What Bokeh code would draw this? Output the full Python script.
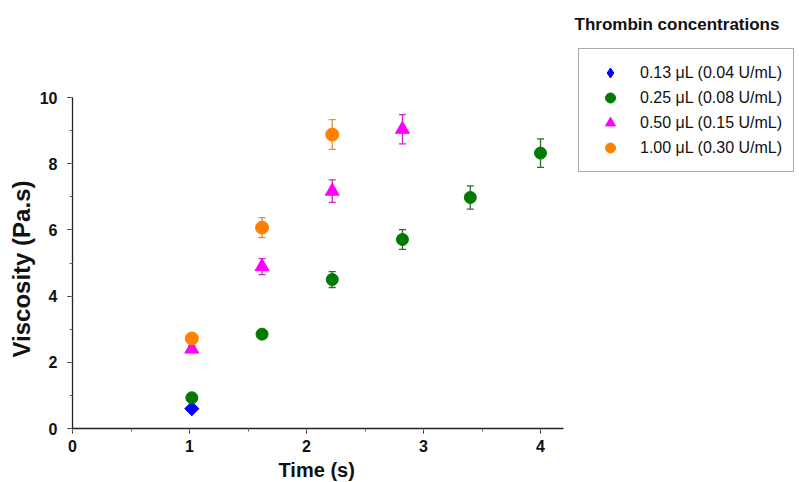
from bokeh.plotting import figure
from bokeh.models import (ColumnDataSource, Whisker, TeeHead, Legend, LegendItem,
                          SingleIntervalTicker, Label, Range1d, Title)
from bokeh.embed import file_html
from bokeh.resources import INLINE
import numpy as np

# ---- data ----
series_labels = ["0.13 \u03bcL (0.04 U/mL)", "0.25 \u03bcL (0.08 U/mL)",
                 "0.50 \u03bcL (0.15 U/mL)", "1.00 \u03bcL (0.30 U/mL)"]
time_013 = [1.02]
visc_013 = [0.60]
err_013 = [0.05]

time_025 = [1.02, 1.62, 2.22, 2.82, 3.40, 4.00]
visc_025 = [0.93, 2.85, 4.50, 5.71, 6.98, 8.32]
err_025 = [0.08, 0.12, 0.24, 0.30, 0.35, 0.43]

time_050 = [1.02, 1.62, 2.22, 2.82]
visc_050 = [2.40, 4.89, 7.17, 9.04]
err_050 = [0.10, 0.24, 0.34, 0.44]

time_100 = [1.02, 1.62, 2.22]
visc_100 = [2.72, 6.07, 8.88]
err_100 = [0.12, 0.30, 0.45]

x_ticks = [0, 1, 2, 3, 4]
y_ticks = [0, 2, 4, 6, 8, 10]
x_bounds = (0, 4.2)
y_bounds = (0, 10)
x_title = "Time (s)"
y_title = "Viscosity (Pa.s)"
legend_title = "Thrombin concentrations"

FONT = "Liberation Sans"

W, H = 799, 482
left, bottom = 72, 54
frame_w = W - left
frame_h = H - bottom
px_x = 117.0
px_y = 33.1

p = figure(width=W, height=H, output_backend="svg", toolbar_location=None,
           x_range=Range1d(0, frame_w / px_x), y_range=Range1d(0, frame_h / px_y),
           min_border_left=left, min_border_bottom=bottom, min_border_top=0,
           min_border_right=0)
p.outline_line_color = None
p.grid.visible = False
p.background_fill_color = "white"

for ax, ticks, bnd in ((p.xaxis[0], x_ticks, x_bounds),
                       (p.yaxis[0], y_ticks, y_bounds)):
    ax.ticker = SingleIntervalTicker(interval=ticks[1] - ticks[0], num_minor_ticks=2)
    ax.bounds = bnd
    ax.major_label_text_font = FONT
    ax.major_label_text_font_style = "bold"
    ax.major_label_text_font_size = "16px"
    ax.major_label_text_color = "#111111"
    ax.axis_line_color = "#222222"
    ax.axis_line_width = 1.3
    ax.major_tick_line_color = "#222222"
    ax.minor_tick_line_color = "#666666"
    ax.major_tick_out = 5
    ax.major_tick_in = 0
    ax.minor_tick_out = 3
    ax.minor_tick_in = 0
p.xaxis[0].major_label_standoff = 6
p.yaxis[0].major_label_standoff = 10

# axis titles, centred on the drawn (bounded) part of each axis
p.add_layout(Title(text=x_title, align="left", offset=206, standoff=4,
                   text_font=FONT, text_font_style="bold", text_font_size="20px",
                   text_color="#111111"), "below")
p.add_layout(Title(text=y_title, align="left", offset=71, standoff=3,
                   text_font=FONT, text_font_style="bold", text_font_size="24px",
                   text_color="#111111"), "left")

series = [
    (time_013, visc_013, err_013, "#0000FF", "#0000FF", "square", 10, 45, "diamond"),
    (time_025, visc_025, err_025, "#007A00", "#2F6B2F", "circle", 12, 0, None),
    (time_050, visc_050, err_050, "#FF00FF", "#D020D0", "triangle", 14, 0, None),
    (time_100, visc_100, err_100, "#FF8000", "#E09040", "circle", 13, 0, None),
]
items = []
for (t, v, e, col, ecol, mk, sz, ang, leg_mk), lab in zip(series, series_labels):
    src = ColumnDataSource(dict(x=t, y=v,
                                upper=list(np.array(v) + np.array(e)),
                                lower=list(np.array(v) - np.array(e))))
    wk = Whisker(source=src, base="x", upper="upper", lower="lower",
                 line_color=ecol, line_width=1.3,
                 upper_head=TeeHead(size=7, line_color=ecol, line_width=1.3),
                 lower_head=TeeHead(size=7, line_color=ecol, line_width=1.3))
    p.add_layout(wk)
    leg_r = None
    if leg_mk is not None:
        # glyph used for the legend entry (the legend does not rotate markers);
        # it sits entirely under the rotated square drawn next
        leg_r = p.scatter("x", "y", source=src, marker=leg_mk, size=13,
                          fill_color=col, line_color=col)
    r = p.scatter("x", "y", source=src, marker=mk, size=sz, angle=np.deg2rad(ang),
                  fill_color=col, line_color=col)
    items.append(LegendItem(label=lab, renderers=[leg_r if leg_r is not None else r]))

legend = Legend(items=items, location=(506, 256),
                glyph_height=25, glyph_width=40, label_height=25, spacing=0,
                padding=11, margin=0, label_standoff=10,
                label_text_font=FONT, label_text_font_size="16px",
                label_text_color="#111111",
                border_line_color="#555555", border_line_width=1.5,
                background_fill_color="white", background_fill_alpha=1.0)
p.add_layout(legend, "center")

title = Label(x=502, y=404, x_units="screen", y_units="screen",
              text=legend_title, text_font=FONT,
              text_font_style="bold", text_font_size="17px",
              text_color="#111111", text_baseline="middle")
p.add_layout(title)

open("out.html", "w").write(file_html(p, INLINE))
